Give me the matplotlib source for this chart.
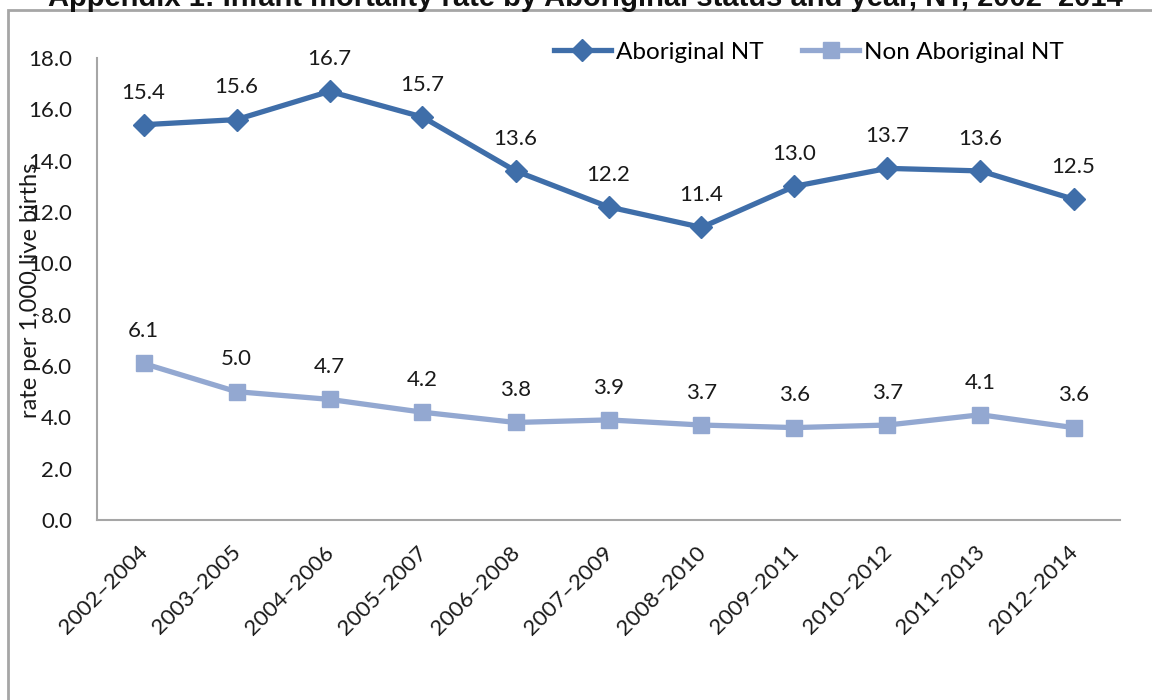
import matplotlib.pyplot as plt
from matplotlib.patches import Rectangle
from matplotlib.transforms import ScaledTranslation

periods = ["2002–2004", "2003–2005", "2004–2006", "2005–2007", "2006–2008", "2007–2009",
           "2008–2010", "2009–2011", "2010–2012", "2011–2013", "2012–2014"]
aboriginal = [15.4, 15.6, 16.7, 15.7, 13.6, 12.2, 11.4, 13.0, 13.7, 13.6, 12.5]
non_aboriginal = [6.1, 5.0, 4.7, 4.2, 3.8, 3.9, 3.7, 3.6, 3.7, 4.1, 3.6]
y_ticks = [0, 2, 4, 6, 8, 10, 12, 14, 16, 18]

COLOR_AB = "#3F6EA9"
COLOR_NON = "#93A8D1"
FONT = "Lato"
FS = 16

W, H = 1152, 700


def px(x, y):
    # pixel coords (from top-left) to figure fraction
    return x / W, 1 - y / H


def main():
    fig = plt.figure(figsize=(11.52, 7.0), dpi=100)

    # outer chart border (runs off right and bottom)
    fig.patches.append(Rectangle(px(8, 720), (1170 - 8) / W, (720 - 10) / H,
                                 transform=fig.transFigure, fill=False,
                                 edgecolor="#A6A6A6", linewidth=2))

    # title, partly clipped at the top like the source image
    tx, ty = px(585, 6)
    fig.text(tx, ty, "Appendix 1: Infant mortality rate by Aboriginal status and year, NT, 2002–2014",
             ha="center", va="baseline", fontsize=21, fontweight="bold",
             family="Liberation Sans", color="#111111")

    left, top = px(97, 58)
    right, bottom = px(1120, 520)
    ax = fig.add_axes([left, bottom, right - left, top - bottom])

    x = list(range(len(periods)))
    ax.plot(x, aboriginal, color=COLOR_AB, linewidth=3.8, marker="D",
            markersize=11, label="Aboriginal NT")
    ax.plot(x, non_aboriginal, color=COLOR_NON, linewidth=3.8, marker="s",
            markersize=12, label="Non Aboriginal NT")

    for i in x:
        ax.annotate(f"{aboriginal[i]:.1f}", (i, aboriginal[i]), xytext=(0, 16),
                    textcoords="offset points", ha="center", va="bottom",
                    fontsize=FS, family=FONT, color="#1a1a1a")
        ax.annotate(f"{non_aboriginal[i]:.1f}", (i, non_aboriginal[i]), xytext=(0, 16),
                    textcoords="offset points", ha="center", va="bottom",
                    fontsize=FS, family=FONT, color="#1a1a1a")

    ax.set_xlim(-0.5, len(periods) - 0.5)
    ax.set_ylim(0, 18)
    ax.set_yticks(y_ticks)
    ax.set_yticklabels([f"{v:.1f}" for v in y_ticks], fontsize=FS, family=FONT, color="#1a1a1a")
    ax.set_xticks(x)
    ax.set_xticklabels(periods, rotation=45, ha="right", rotation_mode="anchor",
                       fontsize=FS, family=FONT, color="#1a1a1a")
    ax.tick_params(axis="y", length=0, pad=18)
    ax.tick_params(axis="x", length=0, pad=16)
    shift = ScaledTranslation(-6 / 100, 0, fig.dpi_scale_trans)
    for lab in ax.get_xticklabels():
        lab.set_transform(lab.get_transform() + shift)

    for s in ["top", "right"]:
        ax.spines[s].set_visible(False)
    for s in ["left", "bottom"]:
        ax.spines[s].set_color("#A6A6A6")
        ax.spines[s].set_linewidth(1.5)

    lx, ly = px(31, 290)
    fig.text(lx, ly, "rate per 1,000 live births", rotation=90, ha="center", va="center",
             fontsize=17, family=FONT, color="#1a1a1a")

    bx, by = px(1064, 52)
    fig.legend(loc="center right", bbox_to_anchor=(bx, by), ncol=2, frameon=False,
               prop={"family": FONT, "size": 17.5}, handlelength=2.35, columnspacing=1.6,
               handletextpad=0.2, borderaxespad=0, borderpad=0)

    fig.savefig("out.png", dpi=100)


if __name__ == "__main__":
    main()
